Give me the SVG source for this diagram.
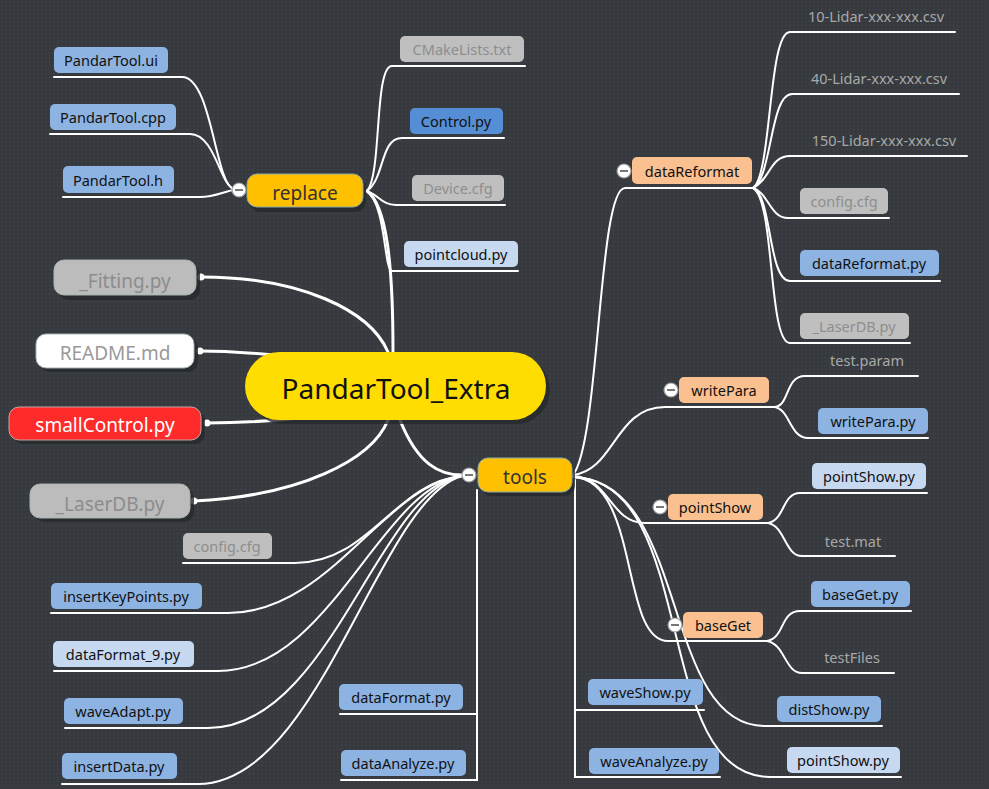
<svg xmlns="http://www.w3.org/2000/svg" width="989" height="789" viewBox="0 0 989 789">
<defs>
<pattern id="dots" width="4" height="4" patternUnits="userSpaceOnUse">
<rect width="4" height="4" fill="#363a3e"/>
<rect x="1" y="1" width="1.2" height="1.2" fill="#43484c"/>
</pattern>
<style>
text{font-family:"Noto Sans","Open Sans","DejaVu Sans",sans-serif;text-anchor:middle}
.c{fill:none;stroke:#ffffff;stroke-width:2;stroke-linecap:round}
.ct{fill:none;stroke:#ffffff;stroke-width:3;stroke-linecap:round}
.blue{fill:#8db3e2}
.dblue{fill:#558ed5}
.lblue{fill:#c6d9f1}
.gray{fill:#bfbfbf}
.peach{fill:#fac090}
.t{font-size:14.5px;fill:#111111}
.tg{font-size:14.5px;fill:#8e8e8e}
.tp{font-size:14.5px;fill:#a8a8a8}
.big{font-size:19px}
.sh{fill:#26292c;opacity:0.8}
.tog circle{fill:#ffffff;stroke:#9a9a9a;stroke-width:1.2}
.tog line{stroke:#777777;stroke-width:2}
</style>
</defs>
<rect width="989" height="789" fill="url(#dots)"/>

<g id="connectors">
<path class="ct" d="M201,277 C300,277 370,310 388,352"/>
<path class="ct" d="M200,351 C230,351 250,353 275,355"/>
<path class="ct" d="M207,423 C240,423 270,421 300,418"/>
<path class="ct" d="M194,501 C300,496 372,460 388,420"/>
<path class="ct" d="M393,352 C393,260 386,205 367,191"/>
<path class="ct" d="M400,420 C418,465 440,475 462,475"/>
<circle cx="201" cy="277" r="3.5" fill="#fff"/>
<circle cx="200" cy="351" r="3.5" fill="#fff"/>
<circle cx="207" cy="423" r="3.5" fill="#fff"/>
<circle cx="194" cy="501" r="3.5" fill="#fff"/>
<path class="c" d="M54,77 H182 C212,77 215,185 234,189"/>
<path class="c" d="M50,134 H190 C215,134 220,185 234,189"/>
<path class="c" d="M63,197 H200 C215,197 225,191 234,190"/>
<path class="c" d="M367,191 C382,175 374,66 392,66 H525"/>
<path class="c" d="M367,191 C385,178 380,138 402,138 H504"/>
<path class="c" d="M367,191 C380,196 382,205 396,205 H505"/>
<path class="c" d="M367,191 C386,205 384,271 392,271 H518"/>
<path class="c" d="M573,475 C600,440 598,188 625,188 H753"/>
<path class="c" d="M573,475 C615,470 615,407 665,407 H775"/>
<path class="c" d="M573,476 C610,478 610,523 645,523 H768"/>
<path class="c" d="M573,477 C640,480 620,641 668,641 H767"/>
<path class="c" d="M573,477 C690,480 660,726 765,726 H882"/>
<path class="c" d="M573,477 C700,480 650,777 770,777 H901"/>
<path class="c" d="M575,480 V777 H720"/>
<path class="c" d="M575,710 H704"/>
<path class="c" d="M477,490 V780 H341"/>
<path class="c" d="M477,714 H340"/>
<path class="c" d="M183,563 H295 C370,563 395,482 462,476"/>
<path class="c" d="M51,613 H228 C330,613 385,484 462,476"/>
<path class="c" d="M54,671 H218 C330,671 380,488 462,476"/>
<path class="c" d="M65,728 H208 C330,728 378,492 462,476"/>
<path class="c" d="M62,784 H198 C320,784 378,500 462,476"/>
<path class="c" d="M753,188 C772,175 768,32 790,32 H955"/>
<path class="c" d="M753,188 C772,178 770,94 792,94 H959"/>
<path class="c" d="M753,188 C770,180 770,156 790,156 H967"/>
<path class="c" d="M753,188 C768,192 770,218 788,218 H889"/>
<path class="c" d="M753,188 C772,195 768,281 790,281 H940"/>
<path class="c" d="M753,188 C775,200 768,343 790,343 H910"/>
<path class="c" d="M775,407 C790,405 785,376 805,376 H918"/>
<path class="c" d="M775,407 C790,410 790,438 808,438 H928"/>
<path class="c" d="M768,523 C785,520 782,493 800,493 H927"/>
<path class="c" d="M768,523 C785,526 785,556 802,556 H895"/>
<path class="c" d="M767,641 C785,638 780,611 800,611 H911"/>
<path class="c" d="M767,641 C785,644 785,673 802,673 H894"/>
</g>

<g id="root">
<rect x="249" y="356" width="301" height="68" rx="34" class="sh"/>
<rect x="245" y="352" width="301" height="68" rx="34" fill="#ffdd00"/>
<text x="396" y="399" font-size="28" fill="#111">PandarTool_Extra</text>
</g>

<g id="n-fitting">
<rect x="58" y="264" width="142" height="36" rx="10" class="sh"/>
<rect x="54" y="260" width="142" height="35" rx="10" fill="#bcbcbc" stroke="#a7b4b0"/>
<text x="125" y="288" class="big" fill="#8c8c8c">_Fitting.py</text>
</g>
<g id="n-readme">
<rect x="40" y="338" width="158" height="34" rx="10" class="sh"/>
<rect x="36" y="334" width="158" height="34" rx="10" fill="#ffffff" stroke="#a7b4b0"/>
<text x="115" y="360" class="big" fill="#999">README.md</text>
</g>
<g id="n-smallcontrol">
<rect x="13" y="411" width="192" height="33" rx="10" class="sh"/>
<rect x="9" y="407" width="192" height="33" rx="10" fill="#ff2a2a" stroke="#c9a3a3"/>
<text x="105" y="432" class="big" fill="#fff">smallControl.py</text>
</g>
<g id="n-laserdb">
<rect x="34" y="488" width="160" height="34" rx="10" class="sh"/>
<rect x="30" y="484" width="160" height="34" rx="10" fill="#bcbcbc" stroke="#a7b4b0"/>
<text x="110" y="511" class="big" fill="#8c8c8c">_LaserDB.py</text>
</g>

<g id="n-replace">
<rect x="250" y="178" width="116" height="34" rx="10" class="sh"/>
<rect x="247" y="174" width="116" height="33" rx="10" fill="#ffc000" stroke="#8eaaa3"/>
<text x="305" y="200" class="big" fill="#333">replace</text>
<g class="tog"><circle cx="239" cy="190" r="7"/><line x1="235" y1="190" x2="243" y2="190"/></g>
</g>
<g id="n-tools">
<rect x="481" y="462" width="94" height="34" rx="10" class="sh"/>
<rect x="478" y="458" width="94" height="34" rx="10" fill="#ffc000" stroke="#8eaaa3"/>
<text x="525" y="484" class="big" fill="#333">tools</text>
<g class="tog"><circle cx="469" cy="475" r="7"/><line x1="465" y1="475" x2="473" y2="475"/></g>
</g>

<g id="n-pandartool-ui"><rect x="54" y="47" width="114" height="26" rx="5" class="blue"/><text x="111" y="66" class="t">PandarTool.ui</text></g>
<g id="n-pandartool-cpp"><rect x="50" y="104" width="126" height="26" rx="5" class="blue"/><text x="113" y="123" class="t">PandarTool.cpp</text></g>
<g id="n-pandartool-h"><rect x="63" y="166" width="111" height="27" rx="5" class="blue"/><text x="118" y="186" class="t">PandarTool.h</text></g>
<g id="n-cmake"><rect x="400" y="36" width="124" height="26" rx="5" class="gray"/><text x="462" y="55" class="tg">CMakeLists.txt</text></g>
<g id="n-control"><rect x="410" y="108" width="93" height="26" rx="5" class="dblue"/><text x="456" y="127" class="t">Control.py</text></g>
<g id="n-device"><rect x="412" y="175" width="92" height="26" rx="5" class="gray"/><text x="458" y="194" class="tg">Device.cfg</text></g>
<g id="n-pointcloud"><rect x="404" y="241" width="114" height="26" rx="5" class="lblue"/><text x="461" y="260" class="t">pointcloud.py</text></g>

<g id="n-datareformat">
<rect x="632" y="157" width="120" height="27" rx="5" class="peach"/><text x="692" y="177" class="t">dataReformat</text>
<g class="tog"><circle cx="624" cy="171" r="7"/><line x1="620" y1="171" x2="628" y2="171"/></g>
</g>
<g id="n-10lidar"><text x="876" y="22" class="tp">10-Lidar-xxx-xxx.csv</text></g>
<g id="n-40lidar"><text x="879" y="84" class="tp">40-Lidar-xxx-xxx.csv</text></g>
<g id="n-150lidar"><text x="884" y="146" class="tp">150-Lidar-xxx-xxx.csv</text></g>
<g id="n-config1"><rect x="800" y="188" width="88" height="26" rx="5" class="gray"/><text x="844" y="207" class="tg">config.cfg</text></g>
<g id="n-datareformat-py"><rect x="800" y="250" width="139" height="26" rx="5" class="blue"/><text x="869" y="269" class="t">dataReformat.py</text></g>
<g id="n-laserdb2"><rect x="800" y="313" width="109" height="26" rx="5" class="gray"/><text x="854" y="332" class="tg">_LaserDB.py</text></g>

<g id="n-writepara">
<rect x="679" y="377" width="90" height="26" rx="5" class="peach"/><text x="724" y="396" class="t">writePara</text>
<g class="tog"><circle cx="671" cy="390" r="7"/><line x1="667" y1="390" x2="675" y2="390"/></g>
</g>
<g id="n-testparam"><text x="867" y="366" class="tp">test.param</text></g>
<g id="n-writepara-py"><rect x="818" y="408" width="110" height="26" rx="5" class="blue"/><text x="873" y="427" class="t">writePara.py</text></g>

<g id="n-pointshow">
<rect x="668" y="494" width="95" height="26" rx="5" class="peach"/><text x="715" y="513" class="t">pointShow</text>
<g class="tog"><circle cx="660" cy="507" r="7"/><line x1="656" y1="507" x2="664" y2="507"/></g>
</g>
<g id="n-pointshow-py"><rect x="812" y="463" width="114" height="26" rx="5" class="lblue"/><text x="869" y="482" class="t">pointShow.py</text></g>
<g id="n-testmat"><text x="853" y="547" class="tp">test.mat</text></g>

<g id="n-baseget">
<rect x="683" y="612" width="80" height="26" rx="5" class="peach"/><text x="723" y="631" class="t">baseGet</text>
<g class="tog"><circle cx="675" cy="625" r="7"/><line x1="671" y1="625" x2="679" y2="625"/></g>
</g>
<g id="n-baseget-py"><rect x="811" y="581" width="99" height="26" rx="5" class="blue"/><text x="860" y="600" class="t">baseGet.py</text></g>
<g id="n-testfiles"><text x="852" y="663" class="tp">testFiles</text></g>

<g id="n-distshow"><rect x="777" y="696" width="104" height="26" rx="5" class="blue"/><text x="829" y="715" class="t">distShow.py</text></g>
<g id="n-pointshow2"><rect x="787" y="747" width="113" height="26" rx="5" class="lblue"/><text x="843" y="766" class="t">pointShow.py</text></g>
<g id="n-waveshow"><rect x="588" y="679" width="115" height="26" rx="5" class="blue"/><text x="645" y="698" class="t">waveShow.py</text></g>
<g id="n-waveanalyze"><rect x="589" y="748" width="130" height="26" rx="5" class="blue"/><text x="654" y="767" class="t">waveAnalyze.py</text></g>

<g id="n-dataformat"><rect x="339" y="684" width="124" height="26" rx="5" class="blue"/><text x="401" y="703" class="t">dataFormat.py</text></g>
<g id="n-dataanalyze"><rect x="341" y="750" width="125" height="26" rx="5" class="blue"/><text x="403" y="769" class="t">dataAnalyze.py</text></g>

<g id="n-config2"><rect x="183" y="533" width="89" height="26" rx="5" class="gray"/><text x="227" y="552" class="tg">config.cfg</text></g>
<g id="n-insertkeypoints"><rect x="51" y="583" width="151" height="26" rx="5" class="blue"/><text x="126" y="602" class="t">insertKeyPoints.py</text></g>
<g id="n-dataformat9"><rect x="53" y="641" width="141" height="26" rx="5" class="lblue"/><text x="123" y="660" class="t">dataFormat_9.py</text></g>
<g id="n-waveadapt"><rect x="64" y="698" width="119" height="26" rx="5" class="blue"/><text x="123" y="717" class="t">waveAdapt.py</text></g>
<g id="n-insertdata"><rect x="62" y="753" width="115" height="26" rx="5" class="blue"/><text x="119" y="772" class="t">insertData.py</text></g>
</svg>
